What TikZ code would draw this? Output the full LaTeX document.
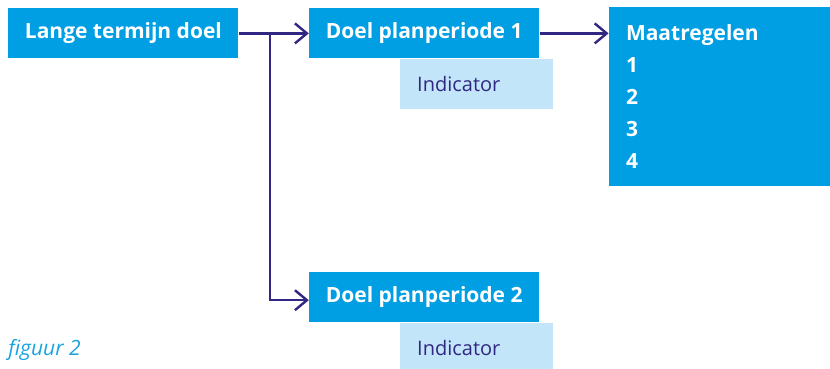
\documentclass[tikz,border=0pt]{standalone}
\usepackage{fontspec}
\setmainfont{Open Sans}
\usetikzlibrary{arrows.meta,positioning}
\definecolor{goalblue}{HTML}{009FE3}
\definecolor{indblue}{HTML}{C2E5F9}
\definecolor{arrownavy}{HTML}{312783}
\definecolor{captionblue}{HTML}{1AA3E0}
\tikzset{
  goal/.style={
    rectangle,
    fill=goalblue,
    text=white,
    inner sep=0pt,
    minimum height=25pt,
    minimum width=115pt,
    font=\fontsize{10.5}{12}\selectfont\bfseries
  },
  indicator/.style={
    rectangle,
    fill=indblue,
    text=arrownavy,
    align=left,
    text width=59.5pt,
    inner xsep=8.5pt,
    inner ysep=0pt,
    minimum height=25pt,
    font=\fontsize{10}{12}\selectfont
  },
  measures/.style={
    rectangle,
    fill=goalblue,
    text=white,
    align=left,
    text width=94pt,
    inner xsep=8.5pt,
    inner ysep=0pt,
    minimum height=89.5pt,
    font=\fontsize{10.5}{16}\selectfont\bfseries
  },
  line/.style={-{Straight Barb[length=6pt, width=10pt]}, line width=1.2pt, draw=arrownavy}
}

\begin{document}
\begin{tikzpicture}[x=0.5pt, y=-0.5pt]
  \useasboundingbox (0,0) rectangle (830,369);

  \node[goal, anchor=north west] (longterm) at (8,8) {Lange termijn doel};
  \node[goal, right=35pt of longterm] (goal1) {Doel planperiode 1};
  \node[indicator, below right=0pt and 45.5pt of goal1.south west] (ind1) {Indicator};
  \node[measures, right=34.5pt of goal1.north east, anchor=north west, yshift=0.5pt] (measures)
    {Maatregelen\\1\\2\\3\\4};

  \node[goal, below=106.5pt of goal1] (goal2) {Doel planperiode 2};
  \node[indicator, below right=0pt and 45.5pt of goal2.south west] (ind2) {Indicator};

  \coordinate[right=15.5pt of longterm.east] (split);

  \draw[line] (longterm) -- (goal1);
  \draw[line] (goal1) -- (goal1 -| measures.west);
  \draw[line] (split) |- ([yshift=-1.5pt]goal2.west);

  \node[anchor=base west, inner sep=0pt, text=captionblue,
        font=\fontsize{10.5}{12}\selectfont\itshape] (caption) at (8,355) {figuur 2};
\end{tikzpicture}
\end{document}
